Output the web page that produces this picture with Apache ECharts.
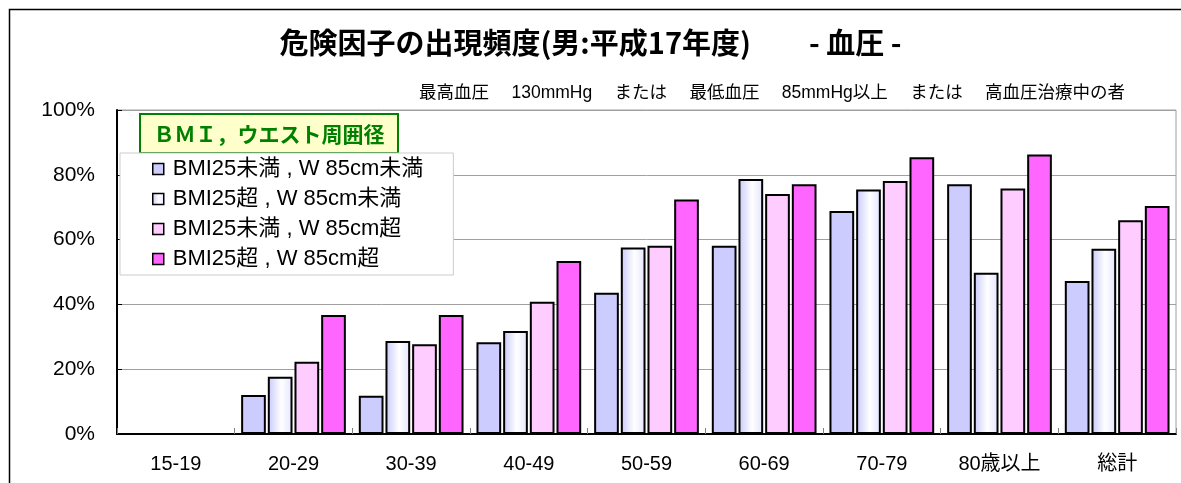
<!DOCTYPE html>
<html><head><meta charset="utf-8">
<script src="https://cdn.jsdelivr.net/npm/echarts@6/dist/echarts.min.js"></script>
<style>html,body{margin:0;padding:0;background:#fff}#c{width:1181px;height:483px}</style>
</head><body><div id="c"></div>
<script>
const categories = ['15-19','20-29','30-39','40-49','50-59','60-69','70-79','80歳以上','総計'];
const seriesNames = ['BMI25未満 , W 85cm未満','BMI25超 , W 85cm未満','BMI25未満 , W 85cm超','BMI25超 , W 85cm超'];
const bmiLowWaistLow  = [null, 12.0, 11.8, 28.3, 43.6, 58.1, 68.8, 77.1, 47.2];
const bmiHighWaistLow = [null, 17.7, 28.7, 31.8, 57.6, 78.7, 75.5, 49.8, 57.2];
const bmiLowWaistHigh = [null, 22.3, 27.7, 40.8, 58.1, 74.1, 78.1, 75.8, 66.0];
const bmiHighWaistHigh= [null, 36.7, 36.7, 53.4, 72.4, 77.1, 85.4, 86.3, 70.4];
const yTicks = [0, 20, 40, 60, 80, 100];

const FONT = "'Liberation Sans','Noto Sans CJK JP',sans-serif";
const fills = [
  '#CCCCFF',
  {type:'linear',x:0,y:0,x2:1,y2:0,colorStops:[{offset:0,color:'#C8C8FA'},{offset:0.55,color:'#FFFFFF'},{offset:1,color:'#E4E4FF'}]},
  '#FFCCFF',
  '#FF66FF'
];
const datasets = [bmiLowWaistLow, bmiHighWaistLow, bmiLowWaistHigh, bmiHighWaistHigh];

const chart = echarts.init(document.getElementById('c'), null, {renderer:'canvas'});
chart.setOption({
  animation:false,
  backgroundColor:'#fff',
  textStyle:{fontFamily:FONT},
  title:[
    {text:'危険因子の出現頻度(男:平成17年度)　　- 血圧 -', left:'center', top:23,
     textStyle:{fontSize:29, fontWeight:'bold', color:'#000', fontFamily:"'Noto Sans CJK JP',sans-serif"}},
    {text:'最高血圧　 130mmHg　 または　 最低血圧　 85mmHg以上　 または　 高血圧治療中の者', right:51, top:79,
     textStyle:{fontSize:17.5, fontWeight:'normal', color:'#000', fontFamily:FONT}},
  ],
  graphic:[
    {type:'rect', left:7, top:7, shape:{width:1200, height:500}, style:{fill:'none', stroke:'#000', lineWidth:1.5}, z:0, silent:true},
    {type:'group', left:139, top:113, z:100, children:[
      {type:'rect', shape:{width:258, height:39}, style:{fill:'#FFFFCC', stroke:'#008000', lineWidth:2}},
      {type:'text', x:129, y:20, style:{text:'ＢＭＩ，ウエスト周囲径', fill:'#008000', font:"bold 21px 'Noto Sans CJK JP',sans-serif", textAlign:'center', textVerticalAlign:'middle'}}
    ]}
  ],
  legend:{
    data:seriesNames, orient:'vertical', left:120, top:153, icon:'rect',
    backgroundColor:'#fff', borderColor:'#cccccc', borderWidth:1,
    padding:[5,30,5,32], itemWidth:11, itemHeight:11, itemGap:8,
    textStyle:{fontSize:22, color:'#000', fontFamily:FONT, padding:[0,0,0,4]},
    itemStyle:{borderColor:'#000', borderWidth:1.5},
    z:50
  },
  grid:{left:117, right:5, top:110, bottom:49, show:true, borderColor:'#a0a0a0', borderWidth:1},
  xAxis:{
    type:'category', data:categories,
    axisLine:{lineStyle:{color:'#000', width:2}},
    axisTick:{show:true, inside:true, length:6, lineStyle:{color:'#808080'}},
    axisLabel:{fontSize:20, color:'#000', margin:20, fontFamily:FONT}
  },
  yAxis:{
    type:'value', min:0, max:100, interval:20,
    axisLine:{show:true, lineStyle:{color:'#000', width:2}},
    axisTick:{show:true, inside:true, length:5, lineStyle:{color:'#000'}},
    axisLabel:{fontSize:21, color:'#000', margin:22, formatter:v=>v+'%', fontFamily:FONT},
    splitLine:{lineStyle:{color:'#a0a0a0', width:1}}
  },
  series: datasets.map((d,i)=>({
    name:seriesNames[i], type:'bar', data:d,
    barGap:'8%', barCategoryGap:'11%',
    itemStyle:{color:fills[i], borderColor:'#000', borderWidth:2}
  }))
});
</script></body></html>
